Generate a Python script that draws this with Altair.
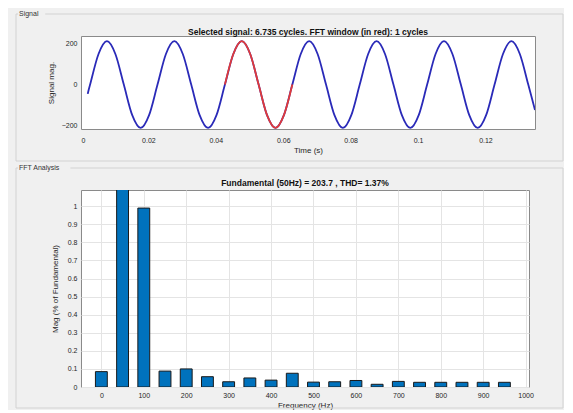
import altair as alt
import pandas as pd

FONT = "Liberation Sans"

# ---- signal (time in s, magnitude) ----
sig_t = [0.0020, 0.0027, 0.0052, 0.0077, 0.0102, 0.0127, 0.0152, 0.0177, 0.0202,
         0.0227, 0.0252, 0.0277, 0.0302, 0.0327, 0.0352, 0.0377, 0.0402,
         0.0427, 0.0452, 0.0477, 0.0502, 0.0527, 0.0552, 0.0577, 0.0602,
         0.0627, 0.0652, 0.0677, 0.0702, 0.0727, 0.0752, 0.0777, 0.0802,
         0.0827, 0.0852, 0.0877, 0.0902, 0.0927, 0.0952, 0.0977, 0.1002,
         0.1027, 0.1052, 0.1077, 0.1102, 0.1127, 0.1152, 0.1177, 0.1202,
         0.1227, 0.1252, 0.1277, 0.1302, 0.1327, 0.1347]
sig_v = [-45, 0, 148, 210, 148, 0, -148, -210, -148,
         0, 148, 210, 148, 0, -148, -210, -148,
         0, 148, 210, 148, 0, -148, -210, -148,
         0, 148, 210, 148, 0, -148, -210, -148,
         0, 148, 210, 148, 0, -148, -210, -148,
         0, 148, 210, 148, 0, -148, -210, -148,
         0, 148, 210, 148, 0, -123]

# FFT window (red), one cycle
win_t = [0.0427, 0.0452, 0.0477, 0.0502, 0.0527, 0.0552, 0.0577, 0.0602, 0.0627]
win_v = [0, 148, 210, 148, 0, -148, -210, -148, 0]

# ---- spectrum ----
freqs = [0, 50, 100, 150, 200, 250, 300, 350, 400, 450,
         500, 550, 600, 650, 700, 750, 800, 850, 900, 950]
mags = [0.085, 100, 0.99, 0.088, 0.10, 0.057, 0.029, 0.05, 0.038, 0.076,
        0.027, 0.029, 0.036, 0.015, 0.031, 0.026, 0.026, 0.026, 0.026, 0.026]

time_ticks = [0, 0.02, 0.04, 0.06, 0.08, 0.1, 0.12]
sig_ticks = [-200, -100, 0, 100, 200]
freq_ticks = [0, 100, 200, 300, 400, 500, 600, 700, 800, 900, 1000]
mag_ticks = [0, 0.1, 0.2, 0.3, 0.4, 0.5, 0.6, 0.7, 0.8, 0.9, 1]

top_title = "Selected signal: 6.735 cycles. FFT window (in red): 1 cycles"
bot_title = "Fundamental (50Hz) = 203.7 , THD= 1.37%"

sig = pd.DataFrame({"t": sig_t, "v": sig_v})
win = pd.DataFrame({"t": win_t, "v": win_v})
fft = pd.DataFrame({"f": freqs, "m": mags})

TOP_W, TOP_H = 454, 93
BOT_W, BOT_H = 448, 197

xs = alt.Scale(domain=[0, 0.1347], nice=False, zero=False)
ys = alt.Scale(domain=[-215, 235], nice=False, zero=False)

blue = alt.Chart(sig).mark_line(color="#2a2ab8", strokeWidth=1.8, interpolate="cardinal", clip=True).encode(
    x=alt.X("t:Q", scale=xs, axis=alt.Axis(title="Time (s)", values=time_ticks, format=".2~f",
                                           grid=False, labelPadding=7, titlePadding=3)),
    y=alt.Y("v:Q", scale=ys, axis=alt.Axis(title="Signal mag.", values=sig_ticks,
                                           grid=False, labelPadding=4, titlePadding=6)),
)
red = alt.Chart(win).mark_line(color="#e03a3a", strokeWidth=1.8, interpolate="cardinal", clip=True).encode(
    x=alt.X("t:Q", scale=xs), y=alt.Y("v:Q", scale=ys)
)


def panel(x1, x2, y1, y2, label):
    box = alt.Chart(pd.DataFrame({"a": [0]})).mark_rect(
        fillOpacity=0, stroke="#d2d2d2", strokeWidth=1
    ).encode(x=alt.value(x1), x2=alt.value(x2), y=alt.value(y1), y2=alt.value(y2))
    patch = alt.Chart(pd.DataFrame({"a": [0]})).mark_rect(fill="#f0f0f0").encode(
        x=alt.value(x1 + 2), x2=alt.value(x1 + 4 + 4.2 * len(label)), y=alt.value(y1 - 4), y2=alt.value(y1 + 4)
    )
    txt = alt.Chart(pd.DataFrame({"lab": [label]})).mark_text(
        align="left", baseline="middle", font=FONT, fontSize=7, color="#333333"
    ).encode(x=alt.value(x1 + 3), y=alt.value(y1), text="lab:N")
    return [box, patch, txt]


def heading(text, w, dy):
    return alt.Chart(pd.DataFrame({"lab": [text]})).mark_text(
        align="center", baseline="alphabetic", font=FONT, fontSize=8.5, fontWeight="bold", color="#111111"
    ).encode(x=alt.value(w / 2), y=alt.value(dy), text="lab:N")


top = alt.layer(*panel(-65, 482, -22, 125, "Signal"), blue, red, heading(top_title, TOP_W, -1)).properties(
    width=TOP_W, height=TOP_H,
)

bars = alt.Chart(fft).transform_calculate(
    lo="datum.f - 14", hi="datum.f + 14"
).mark_bar(color="#0072BD", stroke="#1a1a1a", strokeWidth=1, clip=True).encode(
    x=alt.X("lo:Q", scale=alt.Scale(domain=[-48, 1008], nice=False, zero=False),
            axis=alt.Axis(title="Frequency (Hz)", values=freq_ticks, format="d", grid=True, gridColor="#e4e4e4",
                          labelPadding=4, titlePadding=3)),
    x2="hi:Q",
    y=alt.Y("m:Q", scale=alt.Scale(domain=[0, 1.09], nice=False),
            axis=alt.Axis(title="Mag (% of Fundamental)", values=mag_ticks, format=".1~f", grid=True,
                          gridColor="#e4e4e4", labelPadding=4, titlePadding=8)),
    y2=alt.datum(0),
)

bottom = alt.layer(*panel(-65, 482, -22, 218, "FFT Analysis"), bars, heading(bot_title, BOT_W, -4)).properties(
    width=BOT_W, height=BOT_H,
)

chart = alt.vconcat(top, bottom, spacing=1).properties(
    background="#f0f0f0",
    padding={"left": 7, "top": 1, "right": 0, "bottom": 0},
).configure_view(
    fill="white", stroke="#8a8a8a", strokeWidth=1
).configure_axis(
    labelFont=FONT, titleFont=FONT, labelFontSize=7, titleFontSize=8, ticks=False, domain=False,
    labelColor="#262626", titleColor="#262626", titleFontWeight="normal"
)

chart.save("out.html", embed_options={"renderer": "svg", "actions": False})
